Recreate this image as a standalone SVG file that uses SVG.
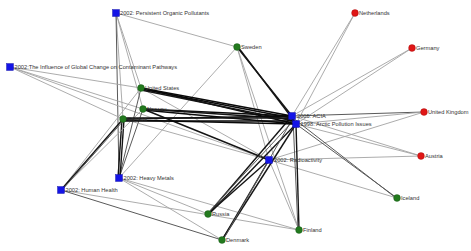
<svg xmlns="http://www.w3.org/2000/svg" width="471" height="251" viewBox="0 0 471 251">
<style>
.g{stroke:#a3a3a3;stroke-width:0.9;fill:none}
.m{stroke:#5a5a5a;stroke-width:1;fill:none}
.d{stroke:#151515;stroke-width:1.4;fill:none}
.b{stroke:#0a0a0a;stroke-width:1.6;fill:none}
.sq{fill:#1414e6;stroke:#0a0aa0;stroke-width:0.4}
.gr{fill:#237a1e;stroke:#17561a;stroke-width:0.4}
.rd{fill:#e01616;stroke:#a00c0c;stroke-width:0.4}
text{font-family:"Liberation Sans",Arial,sans-serif;font-size:5.7px;fill:#333}
</style>
<rect width="471" height="251" fill="#ffffff"/>
<g id="connectors">
<line class="g" x1="116" y1="13" x2="237" y2="47"/>
<line class="g" x1="116" y1="13" x2="141" y2="88"/>
<line class="g" x1="116" y1="13" x2="143" y2="109"/>
<line class="g" x1="116" y1="13" x2="123" y2="119"/>
<line class="m" x1="116" y1="13" x2="119" y2="178"/>
<line class="g" x1="10" y1="67" x2="141" y2="88"/>
<line class="g" x1="10" y1="67" x2="143" y2="109"/>
<line class="g" x1="10" y1="67" x2="123" y2="119"/>
<line class="g" x1="10" y1="67" x2="269" y2="160"/>
<line class="g" x1="119" y1="178" x2="237" y2="47"/>
<line class="m" x1="119" y1="178" x2="141" y2="88"/>
<line class="m" x1="119" y1="178" x2="143" y2="109"/>
<line class="d" x1="118" y1="178" x2="122" y2="119"/>
<line class="d" x1="120" y1="178" x2="124" y2="119"/>
<line class="g" x1="119" y1="178" x2="208" y2="214"/>
<line class="g" x1="119" y1="178" x2="222" y2="240"/>
<line class="g" x1="119" y1="178" x2="299" y2="230"/>
<line class="g" x1="61" y1="190" x2="141" y2="88"/>
<line class="g" x1="61" y1="190" x2="143" y2="109"/>
<line class="d" x1="61" y1="190" x2="123" y2="119"/>
<line class="m" x1="62" y1="190" x2="124" y2="120"/>
<line class="m" x1="61" y1="190" x2="222" y2="240"/>
<line class="g" x1="61" y1="190" x2="299" y2="230"/>
<line class="g" x1="237" y1="47" x2="269" y2="160"/>
<line class="g" x1="237" y1="47" x2="299" y2="230"/>
<line class="g" x1="123" y1="119" x2="269" y2="160"/>
<line class="g" x1="141" y1="88" x2="269" y2="160"/>
<line class="d" x1="143" y1="109" x2="269" y2="160"/>
<line class="g" x1="269" y1="160" x2="299" y2="230"/>
<line class="g" x1="269" y1="160" x2="397" y2="198"/>
<line class="g" x1="269" y1="160" x2="421" y2="156"/>
<line class="g" x1="269" y1="160" x2="424" y2="112"/>
<line class="g" x1="355" y1="13" x2="292" y2="116"/>
<line class="g" x1="355" y1="13" x2="296" y2="124"/>
<line class="g" x1="412" y1="48" x2="292" y2="116"/>
<line class="g" x1="412" y1="48" x2="296" y2="124"/>
<line class="m" x1="424" y1="112" x2="292" y2="116"/>
<line class="g" x1="424" y1="112" x2="296" y2="124"/>
<line class="g" x1="421" y1="156" x2="292" y2="116"/>
<line class="g" x1="421" y1="156" x2="296" y2="124"/>
<line class="m" x1="397" y1="198" x2="296" y2="124"/>
<line class="m" x1="396" y1="198" x2="293" y2="118"/>
<line class="d" x1="299" y1="230" x2="296" y2="124"/>
<line class="m" x1="298" y1="230" x2="293" y2="118"/>
<line class="d" x1="208" y1="214" x2="269" y2="160"/>
<line class="d" x1="208" y1="214" x2="292" y2="116"/>
<line class="d" x1="209" y1="214" x2="296" y2="124"/>
<line class="m" x1="207" y1="214" x2="294" y2="120"/>
<line class="d" x1="222" y1="240" x2="269" y2="160"/>
<line class="d" x1="222" y1="240" x2="296" y2="124"/>
<line class="m" x1="223" y1="240" x2="293" y2="118"/>
<line class="d" x1="237" y1="47" x2="292" y2="116"/>
<line class="d" x1="238" y1="47" x2="295" y2="122"/>
<line class="b" x1="141" y1="88" x2="292" y2="116"/>
<line class="b" x1="141" y1="89" x2="292" y2="118"/>
<line class="b" x1="142" y1="88" x2="296" y2="124"/>
<line class="d" x1="141" y1="90" x2="294" y2="121"/>
<line class="b" x1="143" y1="109" x2="292" y2="116"/>
<line class="b" x1="143" y1="110" x2="296" y2="124"/>
<line class="d" x1="144" y1="109" x2="293" y2="119"/>
<line class="b" x1="123" y1="119" x2="292" y2="116"/>
<line class="b" x1="124" y1="120" x2="296" y2="124"/>
<line class="b" x1="123" y1="121" x2="294" y2="121"/>
<line class="d" x1="124" y1="118" x2="292" y2="118"/>
</g>
<g id="n-pop"><rect class="sq" x="112.5" y="9.5" width="7" height="7"/><text x="120" y="14.5">2002: Persistent Organic Pollutants</text></g>
<g id="n-inf"><rect class="sq" x="6.5" y="63.5" width="7" height="7"/><text x="14.5" y="68.5">2002:The Influence of Global Change on Contaminant Pathways</text></g>
<g id="n-hm"><rect class="sq" x="115.5" y="174.5" width="7" height="7"/><text x="123.5" y="179.5">2002: Heavy Metals</text></g>
<g id="n-hh"><rect class="sq" x="57.5" y="186.5" width="7" height="7"/><text x="65.5" y="191.5">2002: Human Health</text></g>
<g id="n-acia"><rect class="sq" x="288.5" y="112.5" width="7" height="7"/><text x="297" y="117.5">2005: ACIA</text></g>
<g id="n-api"><rect class="sq" x="292.5" y="120.5" width="7" height="7"/><text x="300.5" y="125.5">1998: Arctic Pollution Issues</text></g>
<g id="n-rad"><rect class="sq" x="265.5" y="156.5" width="7" height="7"/><text x="274" y="161.5">2002: Radioactivity</text></g>
<g id="n-swe"><circle class="gr" cx="237" cy="47" r="3.4"/><text x="241" y="48.5">Sweden</text></g>
<g id="n-us"><circle class="gr" cx="141" cy="88" r="3.4"/><text x="145" y="89.5">United States</text></g>
<g id="n-nor"><circle class="gr" cx="143" cy="109" r="3.4"/><text x="147" y="110.5">Norway</text></g>
<g id="n-can"><circle class="gr" cx="123" cy="119" r="3.4"/><text x="127" y="120.5">Canada</text></g>
<g id="n-rus"><circle class="gr" cx="208" cy="214" r="3.4"/><text x="212" y="215.5">Russia</text></g>
<g id="n-den"><circle class="gr" cx="222" cy="240" r="3.4"/><text x="226" y="241.5">Denmark</text></g>
<g id="n-fin"><circle class="gr" cx="299" cy="230" r="3.4"/><text x="303" y="231.5">Finland</text></g>
<g id="n-ice"><circle class="gr" cx="397" cy="198" r="3.4"/><text x="401" y="199.5">Iceland</text></g>
<g id="n-ned"><circle class="rd" cx="355" cy="13" r="3.4"/><text x="359" y="14.5">Netherlands</text></g>
<g id="n-ger"><circle class="rd" cx="412" cy="48" r="3.4"/><text x="416" y="49.5">Germany</text></g>
<g id="n-uk"><circle class="rd" cx="424" cy="112" r="3.4"/><text x="428" y="113.5">United Kingdom</text></g>
<g id="n-aut"><circle class="rd" cx="421" cy="156" r="3.4"/><text x="425" y="157.5">Austria</text></g>
</svg>
